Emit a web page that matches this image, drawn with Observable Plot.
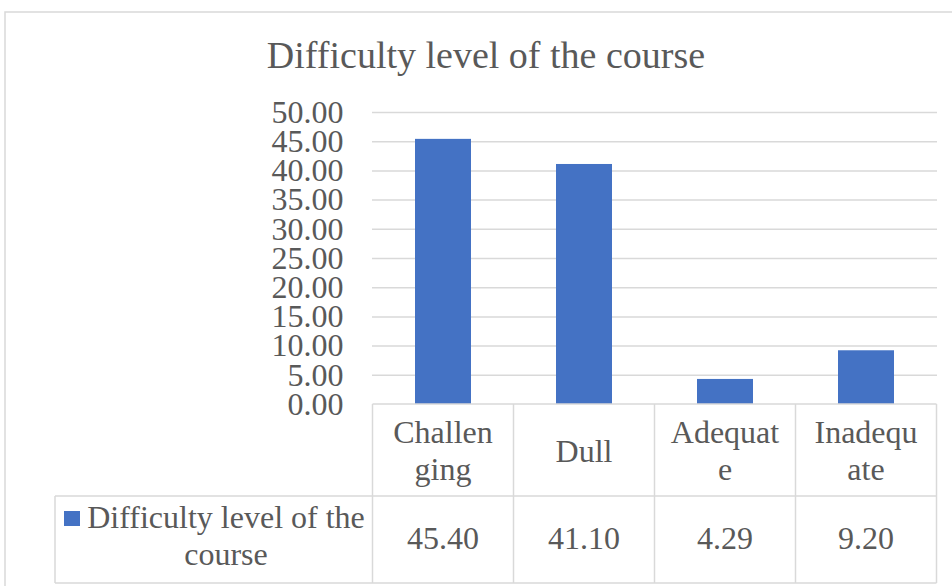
<!DOCTYPE html>
<html><head><meta charset="utf-8">
<script src="https://cdn.jsdelivr.net/npm/d3@7"></script>
<script src="https://cdn.jsdelivr.net/npm/@observablehq/plot@0.6"></script>
<style>html,body{margin:0;padding:0;background:#fff} svg{display:block}</style>
</head><body><div id="chart"></div>
<script>
const title = "Difficulty level of the course";
const categories = ["Challenging", "Dull", "Adequate", "Inadequate"];
const categoryLabels = [["Challen", "ging"], ["Dull"], ["Adequat", "e"], ["Inadequ", "ate"]];
const values = [45.40, 41.10, 4.29, 9.20];
const valueLabels = ["45.40", "41.10", "4.29", "9.20"];
const seriesLabelLines = ["Difficulty level of the", "course"];
const yTicks = [0, 5, 10, 15, 20, 25, 30, 35, 40, 45, 50];

const data = categories.map((c, i) => ({category: c, value: values[i]}));
const font = "'Liberation Serif','Times New Roman',serif";
const textColor = "#595959";
const gridColor = "#d9d9d9";
const barColor = "#4472C4";

const chart = Plot.plot({
  width: 952, height: 586,
  marginLeft: 372, marginRight: 15, marginTop: 112, marginBottom: 182,
  style: {fontFamily: font, fontSize: "32px", color: textColor, background: "#fff"},
  x: {domain: categories, paddingInner: 0.6, paddingOuter: 0.3, axis: null},
  y: {domain: [0, 50], axis: null, label: null},
  marks: [
    Plot.ruleY(yTicks.filter(d => d > 0), {stroke: gridColor, strokeWidth: 1.5}),
    Plot.barY(data, {x: "category", y: "value", fill: barColor}),
    Plot.axisY(yTicks, {tickSize: 0, tickPadding: 29, tickFormat: d3.format(".2f"), fill: textColor, fontSize: 32, label: null})
  ]
});

const svg = d3.select(chart);
const xs = chart.scale("x");
const ys = chart.scale("y");
const step = xs.step;
const bw = xs.bandwidth;
const colLeft = c => xs.apply(c) - (step - bw) / 2;
const tableTop = ys.apply(0);
const left = colLeft(categories[0]);
const right = colLeft(categories[categories.length - 1]) + step;
const headerBottom = tableTop + 92;
const tableBottom = headerBottom + 87;
const labelLeft = 55;

// outer chart border
svg.insert("rect", ":first-child")
  .attr("x", 5).attr("y", 12).attr("width", 980).attr("height", 620)
  .attr("fill", "#fff").attr("stroke", gridColor).attr("stroke-width", 1.5);

// title
svg.append("text").attr("x", 486).attr("y", 68)
  .attr("text-anchor", "middle").attr("font-size", 38).attr("fill", textColor)
  .attr("font-family", font).text(title);

// table lines
const g = svg.append("g").attr("stroke", gridColor).attr("stroke-width", 1.5).attr("fill", "none");
g.append("line").attr("x1", left).attr("x2", right).attr("y1", tableTop).attr("y2", tableTop);
g.append("line").attr("x1", labelLeft).attr("x2", right).attr("y1", headerBottom).attr("y2", headerBottom);
g.append("line").attr("x1", labelLeft).attr("x2", right).attr("y1", tableBottom).attr("y2", tableBottom);
g.append("line").attr("x1", labelLeft).attr("x2", labelLeft).attr("y1", headerBottom).attr("y2", tableBottom);
categories.forEach(c => {
  const x = colLeft(c);
  g.append("line").attr("x1", x).attr("x2", x).attr("y1", tableTop).attr("y2", tableBottom);
});
g.append("line").attr("x1", right).attr("x2", right).attr("y1", tableTop).attr("y2", tableBottom);

// header labels
const t = svg.append("g").attr("font-family", font).attr("font-size", 32).attr("fill", textColor).attr("text-anchor", "middle");
categories.forEach((c, i) => {
  const cx = xs.apply(c) + bw / 2;
  const lines = categoryLabels[i];
  const baseline0 = lines.length === 1 ? tableTop + 58 : tableTop + 39;
  lines.forEach((l, j) => {
    t.append("text").attr("x", cx).attr("y", baseline0 + j * 37).text(l);
  });
  t.append("text").attr("x", cx).attr("y", headerBottom + 53).text(valueLabels[i]);
});

// series label with legend key
svg.append("rect").attr("x", 64).attr("y", 511).attr("width", 16).attr("height", 15).attr("fill", barColor);
seriesLabelLines.forEach((l, j) => {
  t.append("text").attr("x", 226).attr("y", headerBottom + 32 + j * 37).text(l);
});

document.getElementById("chart").appendChild(chart);
</script>
</body></html>
